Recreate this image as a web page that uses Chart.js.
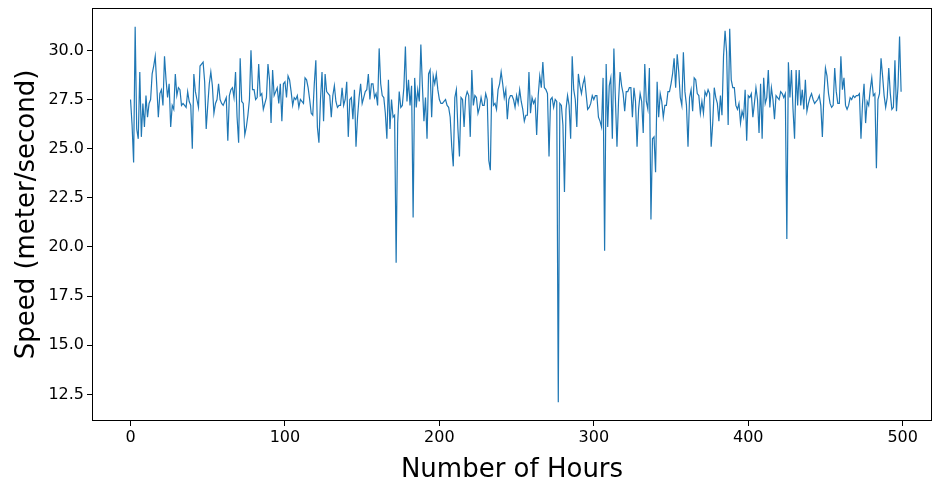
<!DOCTYPE html>
<html>
<head>
<meta charset="utf-8">
<script src="https://cdn.jsdelivr.net/npm/chart.js@4/dist/chart.umd.min.js"></script>
<style>
  html, body { margin: 0; padding: 0; background: #fff; }
  #wrap { width: 933px; height: 486px; }
</style>
</head>
<body>
<div id="wrap"><canvas id="chart" width="933" height="486"></canvas></div>
<script>
// speed per hour, hour 0..499
var speed = [
  27.5, 26.2, 24.3, 31.2, 26.0, 25.5, 28.9, 25.6, 27.3, 26.1,
  27.7, 26.6, 27.3, 27.5, 28.8, 29.2, 29.7, 28.2, 26.6, 27.8,
  28.0, 27.2, 29.7, 28.5, 27.6, 28.3, 26.1, 27.2, 27.0, 28.8,
  27.7, 28.1, 28.0, 27.2, 27.3, 27.2, 27.1, 27.9, 27.4, 27.2,
  25.0, 28.8, 27.9, 27.5, 27.1, 29.2, 29.3, 29.4, 28.4, 26.0,
  27.2, 28.3, 28.9, 28.2, 26.8, 27.3, 27.5, 28.3, 27.5, 27.3,
  27.2, 27.4, 27.6, 25.4, 27.7, 28.0, 28.1, 27.6, 28.9, 26.6,
  25.3, 29.6, 27.4, 27.3, 25.7, 26.1, 26.7, 27.5, 30.0, 28.0,
  28.0, 27.5, 27.6, 29.3, 27.7, 27.8, 27.0, 27.3, 27.6, 29.3,
  28.5, 26.3, 29.0, 27.7, 27.9, 28.1, 27.3, 28.3, 26.4, 28.3,
  28.4, 27.6, 28.7, 28.5, 27.9, 27.2, 27.6, 27.5, 27.7, 27.1,
  27.5, 27.4, 27.3, 28.6, 28.5, 28.1, 27.5, 26.8, 26.7, 28.3,
  29.5, 26.1, 25.3, 27.5, 28.9, 26.4, 28.8, 27.9, 27.8, 27.7,
  26.6, 27.7, 28.2, 27.4, 27.1, 27.2, 27.2, 28.1, 27.2, 27.5,
  28.4, 25.6, 27.5, 27.6, 26.5, 28.0, 25.1, 26.6, 27.6, 28.3,
  27.3, 27.6, 27.9, 28.0, 28.8, 27.5, 28.3, 28.3, 27.6, 27.8,
  27.2, 30.1, 28.3, 27.7, 27.6, 26.8, 25.5, 28.5, 26.0, 27.5,
  26.6, 26.7, 19.2, 26.3, 27.9, 27.1, 27.2, 28.1, 30.2, 27.4,
  28.5, 27.2, 28.2, 21.5, 28.6, 27.1, 28.0, 27.4, 30.3, 28.2,
  26.4, 27.6, 25.5, 28.8, 29.0, 26.6, 28.7, 28.3, 28.8, 28.0,
  27.5, 27.3, 27.3, 27.4, 27.5, 27.2, 27.1, 26.6, 25.1, 24.1,
  27.6, 28.0, 26.0, 24.6, 27.6, 27.5, 26.1, 27.6, 27.9, 27.7,
  25.6, 29.0, 27.2, 27.7, 27.6, 26.8, 27.1, 27.6, 27.2, 27.2,
  27.8, 27.5, 24.4, 23.9, 28.6, 27.2, 27.3, 27.0, 28.0, 28.3,
  28.9, 28.3, 27.6, 28.0, 26.5, 27.5, 27.7, 27.7, 27.5, 27.1,
  27.7, 27.3, 28.0, 27.4, 27.0, 26.4, 26.7, 26.7, 28.9, 26.8,
  27.6, 27.3, 27.5, 25.7, 27.7, 28.7, 28.1, 29.4, 28.1, 28.0,
  27.8, 24.6, 27.5, 27.6, 27.1, 27.5, 27.4, 12.1, 27.3, 27.2,
  26.2, 22.8, 27.0, 27.7, 27.2, 25.5, 29.7, 28.0, 27.5, 26.1,
  28.8, 28.2, 27.8, 28.3, 28.6, 27.8, 27.0, 27.1, 27.3, 27.7,
  27.5, 27.7, 27.7, 26.6, 26.4, 26.1, 28.6, 19.8, 29.3, 26.1,
  28.2, 28.6, 25.5, 30.1, 27.5, 25.1, 27.4, 28.9, 28.2, 27.8,
  26.9, 27.9, 27.9, 28.1, 28.1, 26.6, 28.1, 27.4, 25.1, 27.0,
  27.8, 27.4, 25.8, 29.3, 27.4, 27.0, 29.1, 21.4, 25.5, 25.6,
  23.8, 28.4, 26.6, 27.8, 27.4, 26.6, 27.2, 27.2, 27.9, 27.9,
  28.3, 28.8, 29.6, 28.1, 29.8, 28.9, 27.6, 27.2, 29.9, 27.9,
  27.2, 25.1, 27.6, 28.0, 26.9, 28.6, 28.5, 27.8, 27.7, 26.8,
  27.4, 26.8, 27.9, 27.7, 28.0, 27.8, 25.1, 26.3, 28.1, 27.6,
  27.3, 26.4, 27.7, 26.7, 29.7, 31.0, 29.9, 26.2, 31.1, 28.5,
  28.1, 28.1, 27.2, 27.0, 27.3, 26.3, 26.9, 26.6, 28.0, 25.4,
  27.7, 27.6, 27.8, 26.6, 27.3, 28.1, 27.5, 25.8, 28.3, 25.5,
  28.6, 27.3, 27.6, 29.0, 27.1, 28.1, 27.5, 26.5, 27.7, 27.6,
  27.5, 27.9, 27.8, 27.6, 27.8, 20.4, 29.4, 27.6, 29.0, 27.0,
  25.5, 29.0, 27.2, 29.0, 27.2, 28.0, 27.0, 28.5, 26.9, 27.3,
  27.6, 27.8, 27.5, 27.3, 27.4, 27.5, 27.7, 27.2, 25.6, 27.7,
  29.1, 28.7, 27.8, 27.3, 27.1, 27.2, 29.1, 27.9, 27.3, 27.3,
  29.7, 28.0, 28.6, 27.2, 27.0, 27.2, 27.6, 27.5, 27.7, 27.6,
  27.7, 27.7, 27.8, 25.5, 27.3, 28.3, 26.3, 27.4, 27.2, 28.0,
  28.6, 27.7, 27.8, 24.0, 27.5, 27.8, 29.6, 28.7, 27.7, 27.1,
  27.6, 29.1, 27.8, 27.0, 27.1, 29.5, 26.9, 28.2, 30.7, 27.9
];
var hours = speed.map(function (v, i) { return i; });
var xTicks = [0, 100, 200, 300, 400, 500];
var yTicks = [12.5, 15.0, 17.5, 20.0, 22.5, 25.0, 27.5, 30.0];

var points = hours.map(function (h, i) { return { x: h, y: speed[i] }; });

// box round the plot area (matplotlib spines)
var frame = {
  id: "frame",
  afterDraw: function (chart) {
    var a = chart.chartArea, ctx = chart.ctx;
    ctx.save();
    ctx.strokeStyle = "#000";
    ctx.lineWidth = 1;
    ctx.strokeRect(a.left + 0.5, a.top + 0.5, a.right - a.left - 1, a.bottom - a.top - 1);
    ctx.restore();
  }
};

var font = "'DejaVu Sans', sans-serif";

new Chart(document.getElementById("chart"), {
  type: "line",
  data: {
    datasets: [{
      data: points,
      borderColor: "#1f77b4",
      borderWidth: 1.2,
      pointRadius: 0,
      tension: 0,
      fill: false
    }]
  },
  options: {
    responsive: false,
    animation: false,
    devicePixelRatio: 1,
    layout: { padding: { top: 8, right: 1, left: 0, bottom: 0 } },
    plugins: { legend: { display: false }, tooltip: { enabled: false } },
    scales: {
      x: {
        type: "linear",
        min: -24.95,
        max: 519,
        afterBuildTicks: function (s) { s.ticks = xTicks.map(function (v) { return { value: v }; }); },
        afterFit: function (s) { s.height = 65; s.paddingLeft = 0; s.paddingRight = 0; },
        grid: { drawOnChartArea: false, drawTicks: true, tickLength: 5, color: "#000" },
        border: { display: false },
        ticks: { color: "#000", font: { family: font, size: 16 }, padding: 2, maxRotation: 0 },
        title: { display: true, text: "Number of Hours", color: "#000", font: { family: font, size: 26 }, padding: { top: 4, bottom: 0 } }
      },
      y: {
        min: 11.145,
        max: 32.155,
        afterBuildTicks: function (s) { s.ticks = yTicks.map(function (v) { return { value: v }; }); },
        afterFit: function (s) { s.width = 92; s.paddingTop = 0; s.paddingBottom = 0; },
        grid: { drawOnChartArea: false, drawTicks: true, tickLength: 5, color: "#000" },
        border: { display: false },
        ticks: {
          color: "#000", font: { family: font, size: 16 }, padding: 3,
          callback: function (v) { return v.toFixed(1); }
        },
        title: { display: true, text: "Speed (meter/second)", color: "#000", font: { family: font, size: 26 }, padding: { top: 12, bottom: 4 } }
      }
    }
  },
  plugins: [frame]
});
</script>
</body>
</html>
